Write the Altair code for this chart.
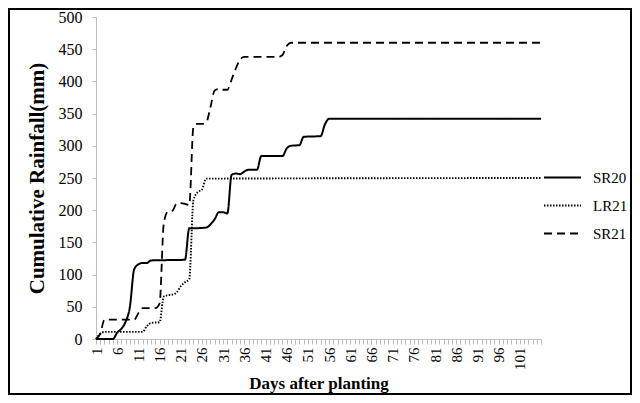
import altair as alt
import pandas as pd

series_names = ["SR20", "LR21", "SR21"]

sr20_days = [1, 5, 6, 7, 8, 9, 10, 11, 12, 13, 14, 22, 23, 24, 27, 28, 29, 30, 31, 32, 33, 34, 35, 36, 37, 39, 40, 45, 46, 47, 49, 50, 54, 55, 56, 106]
sr20_vals = [0, 0, 10, 16, 27, 50, 108, 116, 118, 118, 122, 123, 172, 172, 173, 178, 186, 197, 197, 195, 255, 257, 256, 260, 263, 263, 284, 284, 296, 300, 301, 314, 315, 333, 342, 342]

lr21_days = [1, 2, 3, 12, 13, 14, 16, 17, 18, 19, 20, 21, 22, 23, 24, 25, 26, 27, 106]
lr21_vals = [0, 8, 11, 11, 20, 25, 26, 66, 68, 69, 72, 82, 88, 93, 216, 228, 232, 249, 250]

sr21_days = [1, 2, 3, 10, 11, 12, 15, 16, 17, 18, 19, 20, 21, 22, 23, 24, 25, 26, 27, 28, 29, 30, 31, 32, 33, 34, 35, 36, 44, 45, 46, 47, 106]
sr21_vals = [0, 8, 30, 30, 40, 48, 48, 55, 180, 198, 199, 210, 211, 210, 208, 330, 334, 334, 336, 360, 386, 388, 387, 387, 403, 420, 434, 438, 438, 441, 455, 460, 460]

x_ticks = list(range(1, 107))
y_ticks = list(range(0, 501, 50))

rows = []
for name, ds, vs in [("SR20", sr20_days, sr20_vals), ("LR21", lr21_days, lr21_vals), ("SR21", sr21_days, sr21_vals)]:
    for d, v in zip(ds, vs):
        rows.append({"series": name, "day": d, "rain": v})
df = pd.DataFrame(rows)

FONT = "Liberation Serif"

lines = alt.Chart(df).mark_line(interpolate="monotone", color="black").encode(
    x=alt.X(
        "day:Q",
        scale=alt.Scale(domain=[1, 106], nice=False, zero=False),
        axis=alt.Axis(
            values=x_ticks,
            labelExpr="((datum.value - 1) % 5 == 0 && datum.value <= 101) ? datum.label : ''",
            labelAngle=270,
            labelOverlap=False,
            labelFlush=False,
            labelBound=False,
            title="Days after planting",
            tickSize=5,
            labelPadding=3,
            titlePadding=6,
            grid=False,
            labelFont=FONT,
            labelFontSize=15,
            labelColor="black",
            titleFont=FONT,
            titleFontSize=17,
            titleFontWeight="bold",
            titleColor="black",
            domainColor="#bdbdbd",
            tickColor="#bdbdbd",
        ),
    ),
    y=alt.Y(
        "rain:Q",
        scale=alt.Scale(domain=[0, 500], nice=False),
        axis=alt.Axis(
            values=y_ticks,
            title="Cumulative Rainfall(mm)",
            tickSize=4,
            labelPadding=10,
            titlePadding=11,
            grid=False,
            labelFont=FONT,
            labelFontSize=16,
            labelColor="black",
            titleFont=FONT,
            titleFontSize=21,
            titleFontWeight="bold",
            titleColor="black",
            domainColor="#bdbdbd",
            tickColor="#bdbdbd",
        ),
    ),
    strokeDash=alt.StrokeDash(
        "series:N",
        scale=alt.Scale(domain=series_names, range=[[1, 0], [1.5, 1.5], [8, 5]]),
        legend=alt.Legend(
            title=None,
            orient="none",
            legendX=447,
            legendY=141,
            symbolType="stroke",
            symbolSize=1369,
            symbolStrokeWidth=2,
            symbolStrokeColor="black",
            labelFont=FONT,
            labelFontSize=15,
            labelColor="black",
            labelOffset=11,
            rowPadding=-2,
            padding=0,
        ),
    ),
    strokeWidth=alt.StrokeWidth(
        "series:N",
        scale=alt.Scale(domain=series_names, range=[2, 1.8, 2]),
        legend=None,
    ),
)

border = alt.Chart(pd.DataFrame({"b": [0]})).mark_rect(
    fillOpacity=0, stroke="black", strokeWidth=2
).encode(
    x=alt.value(-87),
    x2=alt.value(535),
    y=alt.value(-8),
    y2=alt.value(377),
)

chart = alt.layer(lines, border).properties(
    width=445,
    height=322,
    autosize=alt.AutoSizeParams(type="none"),
    padding={"left": 88, "top": 9, "right": 91, "bottom": 56},
    background="white",
).configure_view(stroke="transparent")

chart.save("out.html", embed_options={"renderer": "svg", "actions": False})
